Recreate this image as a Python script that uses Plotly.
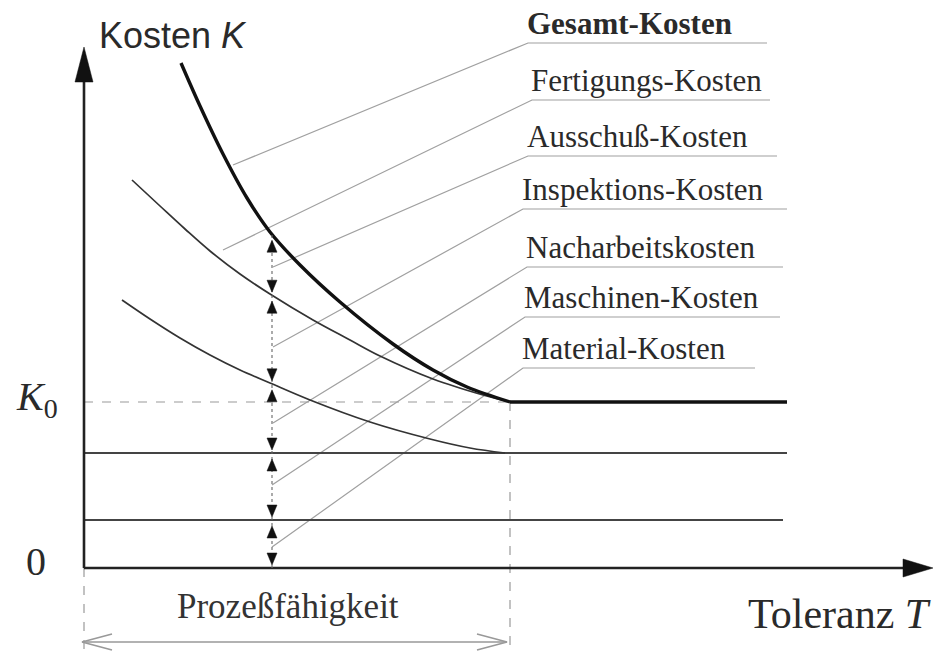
import numpy as np
import plotly.graph_objects as go

# Koordinaten: T = Toleranz (nach rechts), K = Kosten (nach oben)

# Gesamt-Kosten (dicke Kurve)
t_gesamt = [97, 116, 139, 163, 186, 216, 256, 309, 349, 383, 426]
k_gesamt = [505, 462, 414, 370, 336, 303, 266, 224, 198, 181, 166]

# obere duenne Kurve
t_oben = [48, 76, 101, 126, 156, 186, 229, 266, 296, 349, 399, 426]
k_oben = [388, 362, 339, 317, 294, 274, 248, 228, 212, 189, 173, 166]

# untere duenne Kurve
t_unten = [38, 66, 96, 126, 156, 186, 226, 286, 346, 386, 421]
k_unten = [268, 249, 230, 213, 198, 185, 168, 146, 129, 120, 115]

k_linie_1 = 48       # untere waagerechte Linie
k_linie_2 = 115      # mittlere waagerechte Linie
k_0 = 166            # K0
t_prozess = 426      # Prozessfaehigkeit
t_ende = [703, 699]  # Ende der waagerechten Linien (K0/mittel, unten)
t_mass = 188         # Masslinie mit Pfeilen
t_achse = 849        # Spitze T-Achse
k_achse = 521        # Spitze K-Achse

labels = ["Gesamt-Kosten", "Fertigungs-Kosten", "Ausschuß-Kosten",
          "Inspektions-Kosten", "Nacharbeitskosten", "Maschinen-Kosten",
          "Material-Kosten"]
label_k = [525, 468, 412, 359, 301, 251, 200]
label_t0 = [444, 448, 444, 439, 443, 441, 439]
label_t1 = [683, 686, 693, 703, 699, 696, 671]
leader_t = [149, 139, 189, 189, 189, 188, 188]
leader_k = [403, 318, 301, 221, 145, 83, 21]

SERIF = "Liberation Serif, Times New Roman, serif"
SANS = "Liberation Sans, Arial, sans-serif"


def head(tip_t, tip_k, dt, dk, length, half):
    # Dreieck einer Pfeilspitze, Richtung (dt, dk)
    n = np.hypot(dt, dk)
    ut, uk = dt / n, dk / n
    bt, bk = tip_t - ut * length, tip_k - uk * length
    return ([tip_t, bt - uk * half, bt + uk * half, tip_t],
            [tip_k, bk + ut * half, bk - ut * half, tip_k])


fig = go.Figure()


def line(x, y, color, width, dash="solid", shape="linear"):
    fig.add_trace(go.Scatter(x=x, y=y, mode="lines", hoverinfo="skip",
                             line=dict(color=color, width=width, dash=dash, shape=shape)))


def fill(x, y, color):
    fig.add_trace(go.Scatter(x=x, y=y, mode="lines", fill="toself", fillcolor=color,
                             hoverinfo="skip", line=dict(color=color, width=0.5)))


# gestrichelte Hilfslinien
line([0, t_prozess], [k_0, k_0], "#9a9a9a", 1.2, "dash")
line([t_prozess, t_prozess], [k_0, -90], "#9a9a9a", 1.2, "dash")
line([0, 0], [0, -90], "#9a9a9a", 1.2, "dash")

# Bezugslinien zu den Beschriftungen
for i in range(len(labels)):
    line([leader_t[i], label_t0[i], label_t1[i]],
         [leader_k[i], label_k[i], label_k[i]], "#a0a0a0", 1.2)

# waagerechte Linien
line([0, t_ende[1]], [k_linie_1, k_linie_1], "#444", 1.8)
line([0, t_ende[0]], [k_linie_2, k_linie_2], "#444", 1.8)

# Kurven
line(t_unten, k_unten, "#333", 1.7, shape="spline")
line(t_oben, k_oben, "#333", 1.7, shape="spline")
line(t_gesamt, k_gesamt, "#111", 3.4, shape="spline")
line([t_prozess, t_ende[0]], [k_0, k_0], "#111", 3.4)

# Achsen
line([0, t_achse - 20], [0, 0], "#222", 2.6)
line([0, 0], [0, k_achse - 25], "#222", 2.6)
fill(*head(t_achse, 0, 1, 0, 30, 9), "#111")
fill(*head(0, k_achse, 0, 1, 35, 9), "#111")

# Masslinie mit Doppelpfeilen
grenzen = [0, k_linie_1, k_linie_2,
           float(np.interp(t_mass, t_unten, k_unten)),
           float(np.interp(t_mass, t_oben, k_oben)),
           float(np.interp(t_mass, t_gesamt, k_gesamt))]
line([t_mass, t_mass], [grenzen[0], grenzen[-1]], "#666", 1.1, "dot")
for lo, hi in zip(grenzen[:-1], grenzen[1:]):
    fill(*head(t_mass, lo + 3, 0, -1, 12, 5), "#111")
    fill(*head(t_mass, hi - 6, 0, 1, 12, 5), "#111")

# Prozessfaehigkeit-Pfeil
k_pf = -74
line([-2, t_prozess - 3], [k_pf, k_pf], "#999", 1.6)
for tip, d in [(-2, -1), (t_prozess - 3, 1)]:
    ht, hk = head(tip, k_pf, d, 0, 30, 8)
    line([ht[1], tip, ht[2]], [hk[1], k_pf, hk[2]], "#999", 1.6)

# Texte
ann = []
for i, name in enumerate(labels):
    txt = f"<b>{name}</b>" if i == 0 else name
    ann.append(dict(x=label_t0[i] - 3, y=label_k[i], text=txt, xanchor="left",
                    yanchor="bottom", font=dict(family=SERIF, size=31, color="#2a2a2a")))
ann += [
    dict(x=13, y=533, text="Kosten <i>K</i>", xanchor="left", yanchor="middle",
         font=dict(family=SANS, size=36, color="#2a2a2a")),
    dict(x=662, y=-46, text="Toleranz <i>T</i>", xanchor="left", yanchor="middle",
         font=dict(family=SERIF, size=42, color="#2a2a2a")),
    dict(x=204, y=-38, text="Prozeßfähigkeit", xanchor="center", yanchor="middle",
         font=dict(family=SERIF, size=35, color="#333")),
    dict(x=-48, y=7, text="0", xanchor="center", yanchor="middle",
         font=dict(family=SERIF, size=40, color="#2a2a2a")),
    dict(x=-70, y=169, text="<i>K</i><sub>0</sub>", xanchor="left", yanchor="middle",
         font=dict(family=SERIF, size=40, color="#2a2a2a")),
]
for a in ann:
    a.update(xref="x", yref="y", showarrow=False)

fig.update_layout(
    width=935, height=653,
    margin=dict(l=0, r=0, t=0, b=0),
    paper_bgcolor="white", plot_bgcolor="white",
    showlegend=False,
    xaxis=dict(range=[-84, 851], visible=False, fixedrange=True),
    yaxis=dict(range=[-85, 568], visible=False, fixedrange=True),
    annotations=ann,
)

fig.write_html("out.html", config={"displayModeBar": False},
               post_script="document.body.style.margin='0px';")
